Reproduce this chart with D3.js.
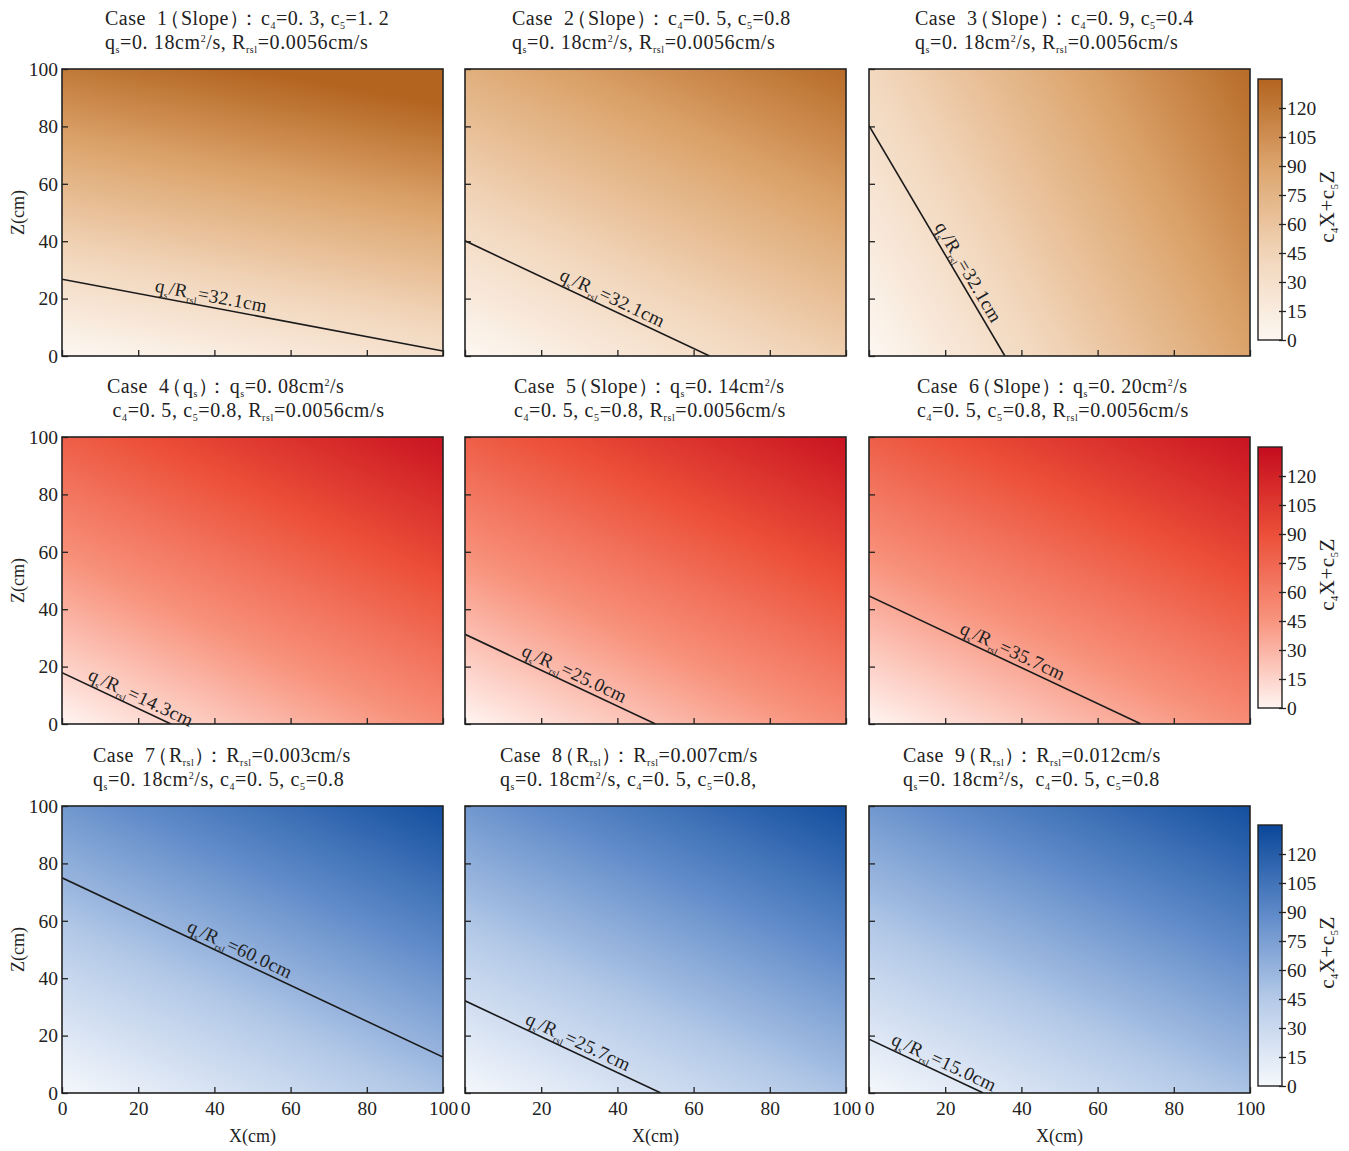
<!DOCTYPE html>
<html><head><meta charset="utf-8">
<script src="https://cdn.jsdelivr.net/npm/d3@7"></script>
<style>
body{margin:0;background:#fff;}
svg text{font-family:"Liberation Serif","Times New Roman",serif;fill:#222;}
svg text.title{white-space:pre;}
</style></head>
<body><svg id="chart" width="1349" height="1151"></svg>
<script>
// ---------- data ----------
const caseIds   = [1,2,3,4,5,6,7,8,9];
const c4Values  = [0.3,0.5,0.9, 0.5,0.5,0.5, 0.5,0.5,0.5];
const c5Values  = [1.2,0.8,0.4, 0.8,0.8,0.8, 0.8,0.8,0.8];
const ratioValues = [32.1,32.1,32.1, 14.3,25.0,35.7, 60.0,25.7,15.0]; // q_s/R_rsl (cm)
const labelXValues = [24,24,16, 6,14,23, 32,15,5];                   // X where the line label starts
const titleLine1 = [
  "Case  1（Slope）：c_{4}=0. 3, c_{5}=1. 2",
  "Case  2（Slope）：c_{4}=0. 5, c_{5}=0.8",
  "Case  3（Slope）：c_{4}=0. 9, c_{5}=0.4",
  "Case  4（q_{s}）：q_{s}=0. 08cm^{2}/s",
  "Case  5（Slope）：q_{s}=0. 14cm^{2}/s",
  "Case  6（Slope）：q_{s}=0. 20cm^{2}/s",
  "Case  7（R_{rsl}）：R_{rsl}=0.003cm/s",
  "Case  8（R_{rsl}）：R_{rsl}=0.007cm/s",
  "Case  9（R_{rsl}）：R_{rsl}=0.012cm/s"
];
const titleLine2 = [
  "q_{s}=0. 18cm^{2}/s, R_{rsl}=0.0056cm/s",
  "q_{s}=0. 18cm^{2}/s, R_{rsl}=0.0056cm/s",
  "q_{s}=0. 18cm^{2}/s, R_{rsl}=0.0056cm/s",
  " c_{4}=0. 5, c_{5}=0.8, R_{rsl}=0.0056cm/s",
  "c_{4}=0. 5, c_{5}=0.8, R_{rsl}=0.0056cm/s",
  "c_{4}=0. 5, c_{5}=0.8, R_{rsl}=0.0056cm/s",
  "q_{s}=0. 18cm^{2}/s, c_{4}=0. 5, c_{5}=0.8",
  "q_{s}=0. 18cm^{2}/s, c_{4}=0. 5, c_{5}=0.8,",
  "q_{s}=0. 18cm^{2}/s,  c_{4}=0. 5, c_{5}=0.8"
];
const axisTicks = [0,20,40,60,80,100];
const colorbarTicks = [0,15,30,45,60,75,90,105,120];
const colorDomain = [0,45,90,135];
const rowPalettes = [
  ["#fdf7f2","#f1d4b8","#dca46c","#b3641f"],
  ["#fff4f1","#f8947e","#ec4f38","#c40c1e"],
  ["#f5f8fc","#b5cae8","#5d89c8","#0a4799"]
];

// ---------- layout ----------
const svg = d3.select("#chart");
const colX = [62,465,869], rowY = [69,437,806];
const W = 381, H = 287;
const titleX = [[105,512,915],[107,514,917],[93,500,903]];
const cbTop = [79,447,825], cbX = 1258, cbW = 24, cbH = 261;
const TF = 20, AF = 19.5, LF = 19;
const defs = svg.append("defs");

function richText(sel, str, fs, subShift=0.2){
  const re = /([_^])\{([^}]*)\}/g;
  let last = 0, m, shift = 0;
  const parts = [];
  while((m = re.exec(str))){
    if(m.index>last) parts.push({t:str.slice(last,m.index), k:"n"});
    parts.push({t:m[2], k:m[1]==="_"?"sub":"sup"});
    last = re.lastIndex;
  }
  if(last<str.length) parts.push({t:str.slice(last), k:"n"});
  let pending = 0;
  parts.forEach(p=>{
    const target = p.k==="sub"? subShift*fs : p.k==="sup"? -0.36*fs : 0;
    const ts = sel.append("tspan").text(p.t).attr("dy", (target-shift).toFixed(2));
    // per-character spacing to tighten full-width punctuation
    const chars = Array.from(p.t);
    const dxs = chars.map(ch=>{
      let d = pending; pending = 0;
      if(ch==="（"){ d += -0.35*fs; }
      else if(ch==="："){ d += -0.55*fs; pending = 0.1*fs; }
      return d;
    });
    if(dxs.some(d=>d!==0)) ts.attr("dx", dxs.map(d=>d.toFixed(1)).join(" "));
    if(p.k!=="n") ts.attr("font-size", (fs*0.5).toFixed(1));
    shift = target;
  });
}

const x = d3.scaleLinear().domain([0,100]).range([0,W]);
const y = d3.scaleLinear().domain([0,100]).range([H,0]);

caseIds.forEach((cid,i)=>{
  const r = Math.floor(i/3), c = i%3;
  const c4 = c4Values[i], c5 = c5Values[i], v = ratioValues[i];
  const color = d3.scaleLinear().domain(colorDomain).range(rowPalettes[r]).clamp(true);
  const g = svg.append("g").attr("transform",`translate(${colX[c]},${rowY[r]})`);

  // gradient of c4*X + c5*Z in pixel space
  const vmax = colorDomain[colorDomain.length-1];
  const gx = c4/(x(1)-x(0)), gy = -c5/(y(0)-y(1));
  const n2 = gx*gx+gy*gy;
  const id = "grad"+cid;
  const grad = defs.append("linearGradient").attr("id",id)
    .attr("gradientUnits","userSpaceOnUse")
    .attr("x1",x(0)).attr("y1",y(0))
    .attr("x2",x(0)+gx*vmax/n2).attr("y2",y(0)+gy*vmax/n2);
  d3.range(0,1.0001,0.05).forEach(t=>{
    grad.append("stop").attr("offset",t).attr("stop-color",color(t*vmax));
  });
  g.append("rect").attr("width",W).attr("height",H).attr("fill",`url(#${id})`);

  defs.append("clipPath").attr("id","clip"+cid).append("rect").attr("width",W).attr("height",H);

  // iso-line c4 X + c5 Z = q_s/R_rsl
  const pts = [];
  const zAt = X => (v - c4*X)/c5, xAt = Z => (v - c5*Z)/c4;
  [[0,zAt(0)],[100,zAt(100)],[xAt(0),0],[xAt(100),100]].forEach(p=>{
    if(p[0]>=-1e-9 && p[0]<=100+1e-9 && p[1]>=-1e-9 && p[1]<=100+1e-9) pts.push(p);
  });
  pts.sort((a,b)=>a[0]-b[0]);
  g.append("line").attr("clip-path",`url(#clip${cid})`)
    .attr("x1",x(pts[0][0])).attr("y1",y(pts[0][1]))
    .attr("x2",x(pts[pts.length-1][0])).attr("y2",y(pts[pts.length-1][1]))
    .attr("stroke","#1a1a1a").attr("stroke-width",1.6);

  // label along the line
  const lx = labelXValues[i], lz = zAt(lx);
  const ang = Math.atan2(y(zAt(lx+1))-y(lz), x(lx+1)-x(lx))*180/Math.PI;
  const lt = g.append("text").attr("font-size",LF).attr("letter-spacing",0.4)
    .attr("transform",`translate(${x(lx)},${y(lz)}) rotate(${ang}) translate(0,-5)`);
  richText(lt, `q_{s}/R_{rsl}=${v.toFixed(1)}cm`, LF, 0.25);

  // axes (inside ticks)
  const xa = d3.axisBottom(x).tickValues(axisTicks).tickSize(-6).tickSizeOuter(0).tickPadding(8);
  if(r<2) xa.tickFormat("");
  const xg = g.append("g").attr("transform",`translate(0,${H})`).call(xa);
  const ya = d3.axisLeft(y).tickValues(axisTicks).tickSize(-6).tickSizeOuter(0).tickPadding(4);
  if(c>0) ya.tickFormat("");
  const yg = g.append("g").call(ya);
  [xg,yg].forEach(a=>{
    a.select(".domain").remove();
    a.selectAll("line").attr("stroke","#222").attr("stroke-width",1.3);
    a.selectAll("text").attr("font-size",AF).attr("font-family","Liberation Serif").attr("fill","#222");
  });

  g.append("rect").attr("width",W).attr("height",H).attr("fill","none")
    .attr("stroke","#222").attr("stroke-width",1.6);

  // titles
  const t1 = svg.append("text").attr("class","title").attr("x",titleX[r][c]).attr("y",rowY[r]-44)
    .attr("font-size",TF).attr("letter-spacing",0.5);
  richText(t1, titleLine1[i], TF, 0.18);
  const t2 = svg.append("text").attr("class","title").attr("x",titleX[r][c]).attr("y",rowY[r]-20)
    .attr("font-size",TF).attr("letter-spacing",0.6);
  richText(t2, titleLine2[i], TF, 0.18);

  if(c===0){
    svg.append("text").attr("font-size",18)
      .attr("transform",`translate(24,${rowY[r]+H/2}) rotate(-90)`)
      .attr("text-anchor","middle").text("Z(cm)");
  }
  if(r===2){
    svg.append("text").attr("font-size",18).attr("text-anchor","middle")
      .attr("x",colX[c]+W/2).attr("y",1142).text("X(cm)");
  }
});

// colorbars
rowPalettes.forEach((pal,r)=>{
  const color = d3.scaleLinear().domain(colorDomain).range(pal);
  const vmax = colorDomain[colorDomain.length-1];
  const id = "cb"+r;
  const grad = defs.append("linearGradient").attr("id",id).attr("x1",0).attr("y1",1).attr("x2",0).attr("y2",0);
  d3.range(0,1.0001,0.05).forEach(t=>grad.append("stop").attr("offset",t).attr("stop-color",color(t*vmax)));
  const g = svg.append("g").attr("transform",`translate(${cbX},${cbTop[r]})`);
  g.append("rect").attr("width",cbW).attr("height",cbH).attr("fill",`url(#${id})`);
  const cs = d3.scaleLinear().domain([0,vmax]).range([cbH,0]);
  const ag = g.append("g").attr("transform",`translate(${cbW-3},0)`)
    .call(d3.axisRight(cs).tickValues(colorbarTicks).tickSize(7).tickPadding(1));
  ag.select(".domain").remove();
  ag.selectAll("line").attr("stroke","#222").attr("stroke-width",1.3);
  ag.selectAll("text").attr("font-size",AF).attr("font-family","Liberation Serif").attr("fill","#222");
  g.append("rect").attr("width",cbW).attr("height",cbH).attr("fill","none").attr("stroke","#222").attr("stroke-width",1.4);
  const lab = svg.append("text").attr("font-size",21).attr("text-anchor","middle").attr("letter-spacing",0.5)
    .attr("transform",`translate(1334,${cbTop[r]+cbH/2-3}) rotate(-90)`);
  richText(lab, "c_{4}X+c_{5}Z", 21, 0.2);
});
</script></body></html>
